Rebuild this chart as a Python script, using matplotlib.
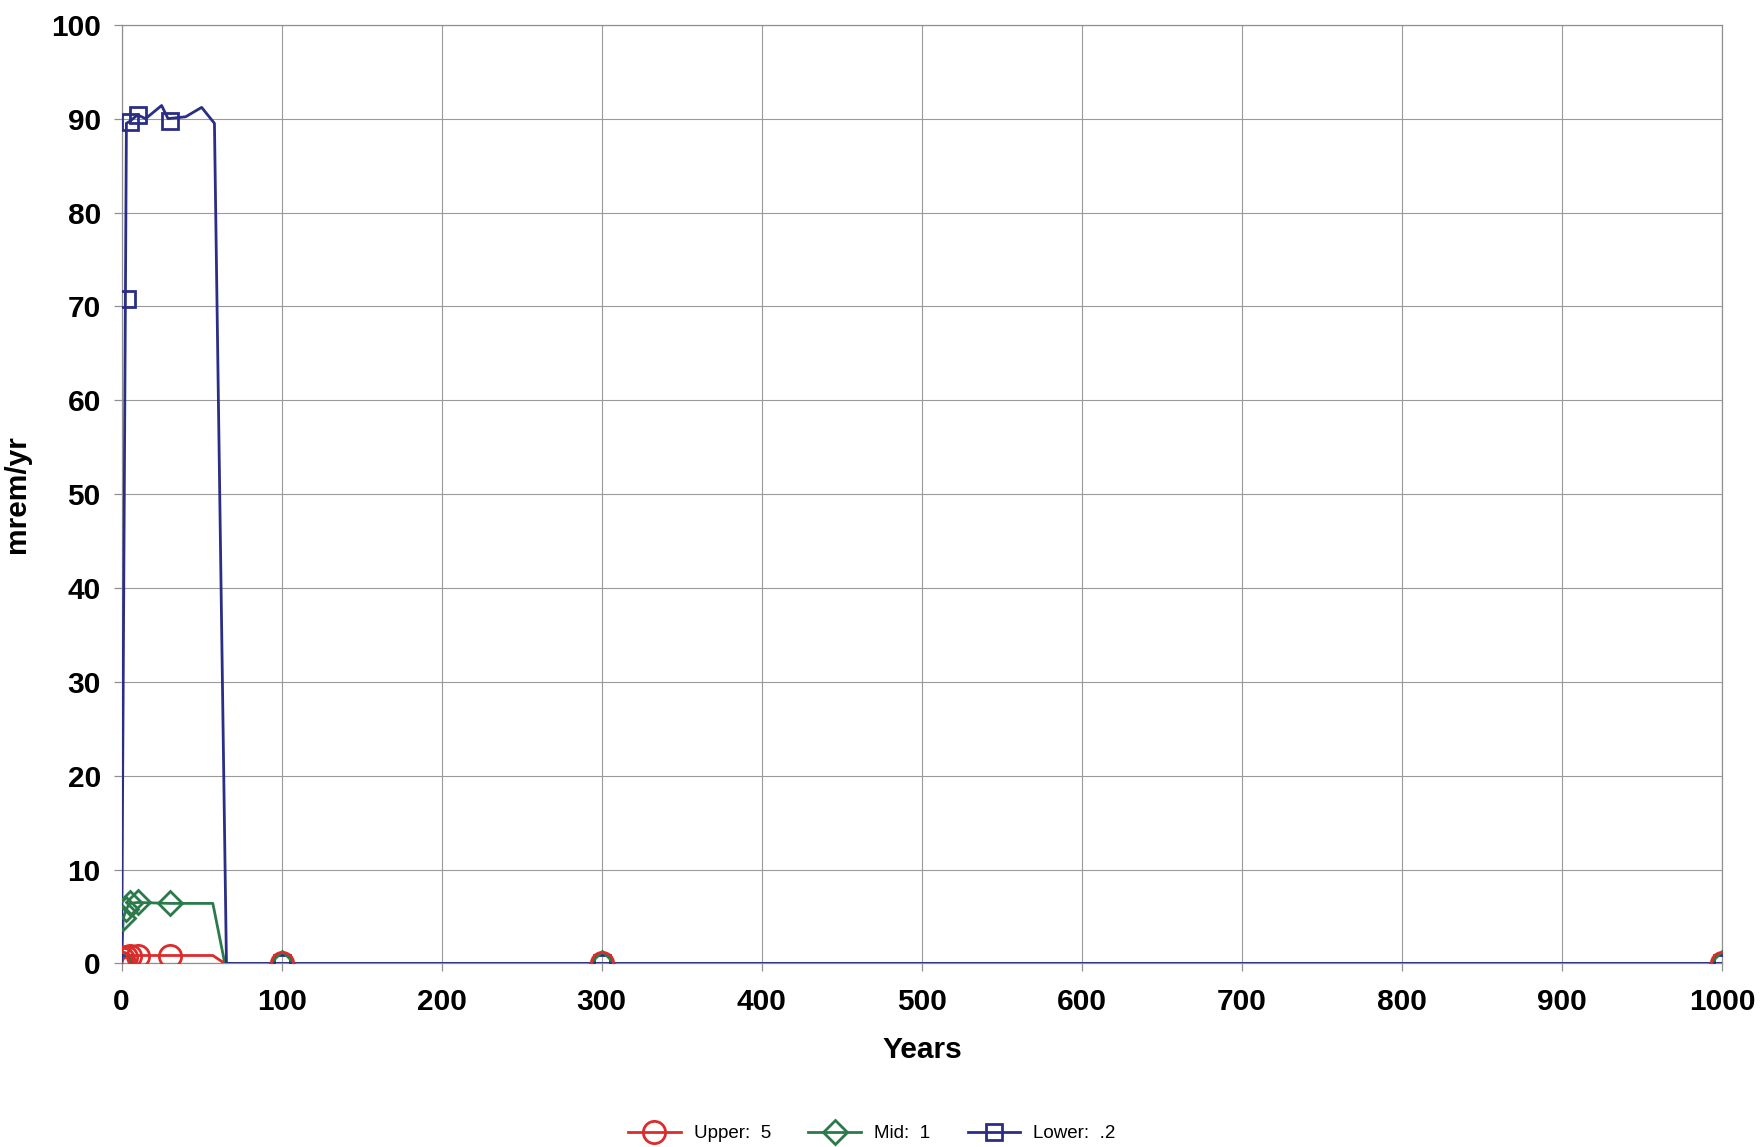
import matplotlib
matplotlib.use("Agg")
import matplotlib.pyplot as plt
from matplotlib.lines import Line2D

plt.rcParams['font.family'] = ['Liberation Sans', 'DejaVu Sans']

# ---- data ----
# Upper: 5 (red)
upper_line_years = [0, 1, 3, 5, 10, 30, 57, 64.5, 100, 300, 1000]
upper_line_vals = [0, 0.5, 0.7, 0.8, 0.85, 0.85, 0.85, 0, 0, 0, 0]
upper_mark_years = [0, 1, 3, 5, 10, 30, 100, 300, 1000]
upper_mark_vals = [0, 0.5, 0.7, 0.8, 0.85, 0.85, 0, 0, 0]

# Mid: 1 (green)
mid_line_years = [0, 1, 3, 5, 10, 30, 57, 64.5, 100, 300, 1000]
mid_line_vals = [0, 4.8, 5.8, 6.4, 6.5, 6.4, 6.4, 0, 0, 0, 0]
mid_mark_years = [0, 1, 3, 5, 10, 30, 100, 300, 1000]
mid_mark_vals = [0, 4.8, 5.8, 6.4, 6.5, 6.4, 0, 0, 0]

# Lower: .2 (blue)
lower_line_years = [0, 3, 5, 10, 15, 25, 29, 40, 50, 58, 65.5, 100, 300, 1000]
lower_line_vals = [0, 89.5, 89.7, 90.4, 90.0, 91.4, 90.0, 90.2, 91.2, 89.5, 0, 0, 0, 0]
lower_mark_years = [0, 3.5, 5, 10, 30, 100, 300, 1000]
lower_mark_vals = [0, 70.8, 89.6, 90.4, 89.8, 0, 0, 0]

labels = ["Upper:  5", "Mid:  1", "Lower:  .2"]
colors = ["#DC2B2B", "#2A7A4A", "#2A2E86"]
markers = ["o", "D", "s"]
msizes = [16, 12.5, 11.5]

x_ticks = list(range(0, 1001, 100))
y_ticks = list(range(0, 101, 10))

fig = plt.figure(figsize=(17.65, 11.47), dpi=100)
ax = fig.add_axes([0.0689, 0.160, 0.9068, 0.8184])

series = [
    (upper_line_years, upper_line_vals, upper_mark_years, upper_mark_vals),
    (mid_line_years, mid_line_vals, mid_mark_years, mid_mark_vals),
    (lower_line_years, lower_line_vals, lower_mark_years, lower_mark_vals),
]
line_z = [3, 4, 5]
mark_z = [8, 7, 6]
for i, (lx, ly, mx, my) in enumerate(series):
    ax.plot(lx, ly, color=colors[i], lw=2.0, zorder=line_z[i])
    ax.plot(mx, my, linestyle="none", marker=markers[i], markersize=msizes[i],
            markerfacecolor="none", markeredgecolor=colors[i], markeredgewidth=2.0,
            zorder=mark_z[i], clip_on=True)

ax.set_xlim(0, 1000)
ax.set_ylim(0, 100)
ax.set_xticks(x_ticks)
ax.set_yticks(y_ticks)
ax.set_xticklabels([str(t) for t in x_ticks], fontsize=21.5, fontweight="bold")
ax.set_yticklabels([str(t) for t in y_ticks], fontsize=21.5, fontweight="bold")
ax.tick_params(axis="both", direction="out", length=6, width=0.9, color="#909090")
ax.tick_params(axis="x", pad=12)
ax.tick_params(axis="y", pad=9)
ax.grid(True, color="#9A9A9A", linewidth=0.8)
ax.set_axisbelow(True)
for s in ax.spines.values():
    s.set_color("#909090")
    s.set_linewidth(0.9)

ax.set_xlabel("Years", fontsize=21.5, fontweight="bold", labelpad=14)
ax.set_ylabel("mrem/yr", fontsize=21.5, fontweight="bold", labelpad=14)

handles = [Line2D([0], [0], color=colors[i], lw=2.0, marker=markers[i], markersize=msizes[i],
                  markerfacecolor="none", markeredgecolor=colors[i], markeredgewidth=2.0)
           for i in range(3)]
fig.legend(handles, labels, loc="center", bbox_to_anchor=(0.494, 0.0115),
           ncol=3, frameon=False, fontsize=13.5, handlelength=2.8, handletextpad=0.7,
           columnspacing=2.0)

fig.savefig("out.png", dpi=100, facecolor="white")
